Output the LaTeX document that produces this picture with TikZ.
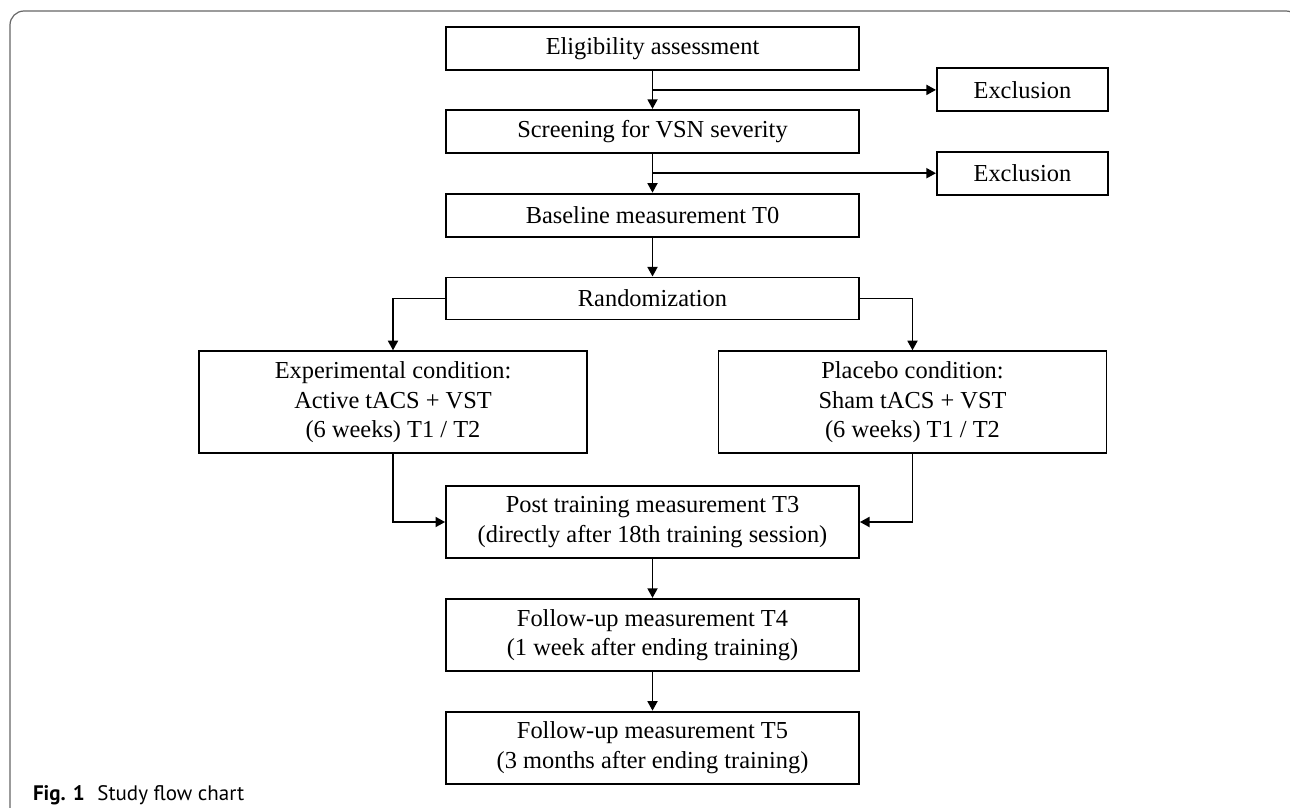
\documentclass[tikz,border=0pt]{standalone}
\usepackage{fontspec}
\setmainfont{Liberation Serif}
\newfontfamily\captionfont{PT Sans}
\usepackage{tikz}
\usetikzlibrary{positioning, calc, arrows.meta}
\tikzstyle{stage} = [rectangle, draw=black, line width=0.9pt, minimum
width=206.5pt, minimum height=21.5pt, text centered, align=center,
inner sep=0pt, font=\fontsize{12.2}{14.6}\selectfont]
\tikzstyle{tallstage} = [stage, minimum height=36pt]
\tikzstyle{arm} = [stage, minimum width=194pt, minimum height=51pt]
\tikzstyle{exclude} = [stage, minimum width=85.5pt]
\tikzstyle{arrow} = [line width=0.9pt, -{Triangle[length=4.8pt,width=5pt]}]
\tikzstyle{frame} = [draw=black!60, line width=0.6pt, rounded corners=7pt]

\begin{document}
\begin{tikzpicture}[x=0.5pt, y=-0.5pt]
  \useasboundingbox (0,0) rectangle (1290,808);
  % Figure frame
  \begin{scope}
    \clip (0,0) rectangle (1290,808);
    \draw [frame] (10,830) -- (10,11) -- (1300,11) -- (1300,830);
  \end{scope}
  % Nodes of the study
  \node (elig) [stage] at (652.5,48.5) {Eligibility assessment};
  \node (screen) [stage, below=19pt of elig] {Screening for VSN severity};
  \node (base) [stage, below=19.5pt of screen] {Baseline measurement T0};
  \node (rand) [stage, minimum height=21pt, below=19.5pt of base]
               {Randomization};
  \node (exp) [arm, below=15pt of rand, xshift=-129.75pt]
              {Experimental condition:\\ Active tACS + VST\\ (6 weeks) T1 / T2};
  \node (plac) [arm, below=15pt of rand, xshift=130pt]
               {Placebo condition:\\ Sham tACS + VST\\ (6 weeks) T1 / T2};
  \coordinate (armbase) at (rand |- exp.south);
  \node (post) [tallstage, below=15.5pt of armbase]
               {Post training measurement T3\\ (directly after 18th training session)};
  \node (t4) [tallstage, below=19.5pt of post]
             {Follow-up measurement T4\\ (1 week after ending training)};
  \node (t5) [tallstage, below=19.5pt of t4]
             {Follow-up measurement T5\\ (3 months after ending training)};
  % Exclusion branches
  \coordinate (split1) at ($(elig.south)!0.5!(screen.north)$);
  \coordinate (split2) at ($(screen.south)!0.5!(base.north)$);
  \node (excl1) [exclude, right=141.75pt of split1] {Exclusion};
  \node (excl2) [exclude, right=141.75pt of split2] {Exclusion};
  % Caption
  \node (caption) [anchor=base west, font=\captionfont\fontsize{10.5}{12}\selectfont]
                  at (26,800) {\textbf{Fig. 1}\hspace{0.6em}Study flow chart};
  % Connections
  \draw [arrow] (elig) -- (screen);
  \draw [arrow] (split1) -- (excl1);
  \draw [arrow] (screen) -- (base);
  \draw [arrow] (split2) -- (excl2);
  \draw [arrow] (base) -- (rand);
  \draw [arrow] (rand.west) -| (exp.north);
  \draw [arrow] (rand.east) -| (plac.north);
  \draw [arrow] (exp.south) |- (post.west);
  \draw [arrow] (plac.south) |- (post.east);
  \draw [arrow] (post) -- (t4);
  \draw [arrow] (t4) -- (t5);
\end{tikzpicture}
\end{document}
